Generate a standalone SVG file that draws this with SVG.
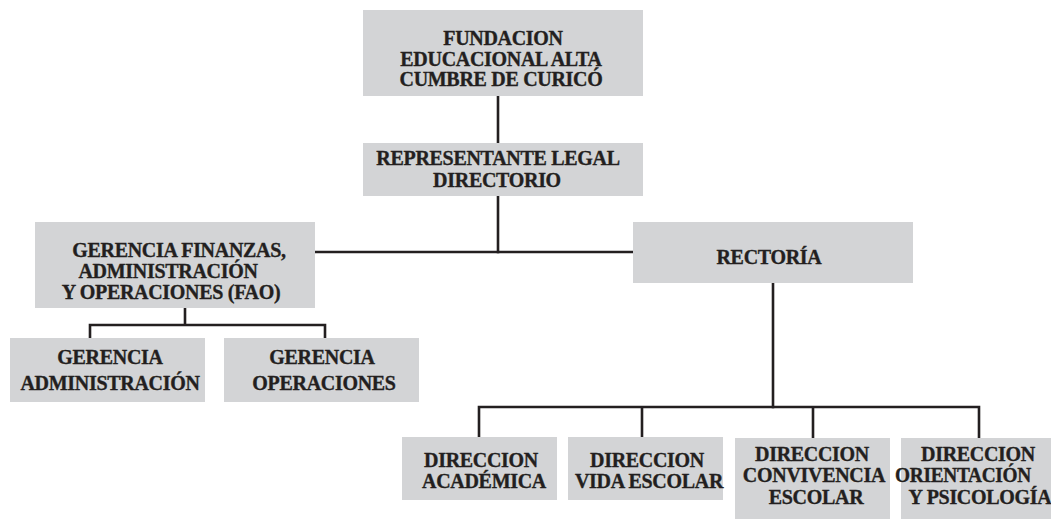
<svg xmlns="http://www.w3.org/2000/svg" width="1051" height="519" viewBox="0 0 1051 519">
<style>
.box{fill:#d3d4d6}
.t{font-family:"Liberation Serif","Times New Roman",serif;font-weight:bold;font-size:20px;fill:#231f20;stroke:#231f20;stroke-width:0.35;text-anchor:middle;letter-spacing:-0.3px}
.c{stroke:#231f20;stroke-width:2.6;fill:none;stroke-linecap:square}
</style>
<rect width="1051" height="519" fill="#ffffff"/>
<g id="connectors">
<path class="c" d="M498 96V143"/>
<path class="c" d="M498 196V252"/>
<path class="c" d="M315 252H633"/>
<path class="c" d="M185 308V325M90 338V325H325V338"/>
<path class="c" d="M773 283V407"/>
<path class="c" d="M479 437V407H979V437M642 407V437M813 407V437"/>
</g>
<g id="fundacion">
<rect class="box" x="363" y="10" width="280" height="86"/>
<text class="t" x="503" y="45">FUNDACION</text>
<text class="t" x="501" y="66">EDUCACIONAL ALTA</text>
<text class="t" x="501" y="86">CUMBRE DE CURICÓ</text>
</g>
<g id="representante">
<rect class="box" x="363" y="143" width="280" height="53"/>
<text class="t" x="498" y="165">REPRESENTANTE LEGAL</text>
<text class="t" x="497" y="187">DIRECTORIO</text>
</g>
<g id="gerencia-fao">
<rect class="box" x="35" y="222" width="280" height="86"/>
<text class="t" x="179" y="257">GERENCIA FINANZAS,</text>
<text class="t" x="168" y="278">ADMINISTRACIÓN</text>
<text class="t" x="171" y="299">Y OPERACIONES (FAO)</text>
</g>
<g id="rectoria">
<rect class="box" x="633" y="222" width="280" height="61"/>
<text class="t" x="769" y="264">RECTORÍA</text>
</g>
<g id="gerencia-administracion">
<rect class="box" x="10" y="338" width="195" height="64"/>
<text class="t" x="110" y="364">GERENCIA</text>
<text class="t" x="110" y="390">ADMINISTRACIÓN</text>
</g>
<g id="gerencia-operaciones">
<rect class="box" x="224" y="338" width="195" height="64"/>
<text class="t" x="322" y="364">GERENCIA</text>
<text class="t" x="324" y="390">OPERACIONES</text>
</g>
<g id="direccion-academica">
<rect class="box" x="402" y="437" width="155" height="63"/>
<text class="t" x="481" y="467">DIRECCION</text>
<text class="t" x="484" y="488">ACADÉMICA</text>
</g>
<g id="direccion-vida-escolar">
<rect class="box" x="568" y="437" width="155" height="63"/>
<text class="t" x="647" y="467">DIRECCION</text>
<text class="t" x="649" y="488">VIDA ESCOLAR</text>
</g>
<g id="direccion-convivencia">
<rect class="box" x="735" y="438" width="155" height="81"/>
<text class="t" x="812" y="461">DIRECCION</text>
<text class="t" x="814" y="482">CONVIVENCIA</text>
<text class="t" x="816" y="504">ESCOLAR</text>
</g>
<g id="direccion-orientacion">
<rect class="box" x="901" y="438" width="150" height="81"/>
<text class="t" x="978" y="461">DIRECCION</text>
<text class="t" x="963" y="482" textLength="136" lengthAdjust="spacingAndGlyphs">ORIENTACIÓN</text>
<text class="t" x="980" y="504">Y PSICOLOGÍA</text>
</g>
</svg>
